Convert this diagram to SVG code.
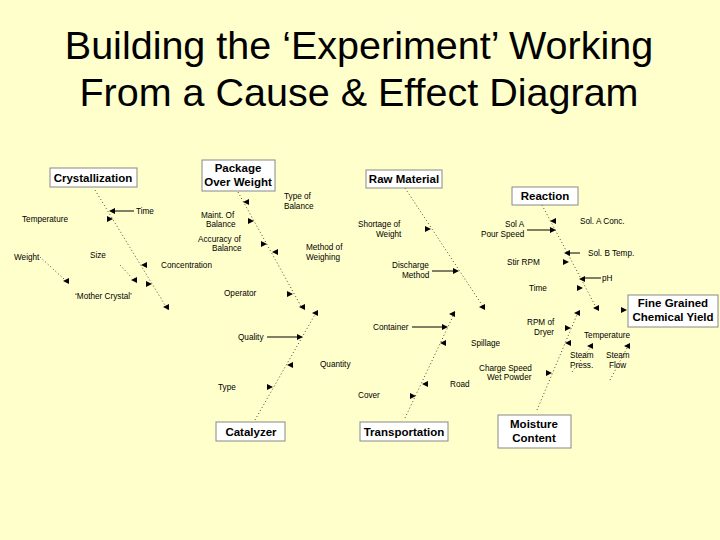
<svg xmlns="http://www.w3.org/2000/svg" width="720" height="540" viewBox="0 0 720 540">
<defs>
<style>
.t{font-family:"Liberation Sans",Arial,sans-serif;font-size:8.2px;fill:#000}
.h{font-family:"Liberation Sans",Arial,sans-serif;font-size:11.5px;font-weight:bold;fill:#000;text-anchor:middle}
.box{fill:#fff;stroke:#888;stroke-width:1}
.d{stroke:#333;stroke-width:0.9;stroke-dasharray:1 2.5;fill:none}
.s{stroke:#000;stroke-width:1;fill:none}
</style>
<polygon id="r" points="3,0 -3,-3 -3,3" fill="#000"/>
<polygon id="l" points="-3,0 3,-3 3,3" fill="#000"/>
</defs>
<rect width="720" height="540" fill="#ffffcc"/>
<g id="title" font-family="Liberation Sans,Arial,sans-serif" font-size="39.5" text-anchor="middle" fill="#000">
<text x="359" y="59">Building the ‘Experiment’ Working</text>
<text x="359" y="106">From a Cause &amp; Effect Diagram</text>
</g>
<g id="connectors">
<path class="d" d="M95 190 L168 310 M238 192 L302 308 M255 420 L317 311 M405 188 L484 308 M405 418 L455 312 M542 205 L597 309 M537 410 L579 310 M40 257 L64 279 M120 265 L132 278 M572 372 L590 348 M610 380 L627 348"/>
<path class="s" d="M134 211 L114 211 M267 337 L297 337 M412 327 L442 327 M527 230 L550 230 M580 253 L569 253 M601 278 L584 278 M432 271 L453 271"/>
<g>
<use href="#l" x="112" y="211"/><use href="#r" x="110" y="219"/><use href="#l" x="144" y="265"/><use href="#r" x="149" y="284"/><use href="#l" x="166" y="307"/><use href="#l" x="134" y="280"/><use href="#l" x="66" y="281"/>
<use href="#l" x="246" y="202"/><use href="#r" x="251" y="221"/><use href="#r" x="264" y="244"/><use href="#l" x="275" y="252"/><use href="#r" x="290" y="294"/><use href="#l" x="302" y="307"/>
<use href="#l" x="315" y="313"/><use href="#r" x="300" y="337"/><use href="#l" x="290" y="365"/><use href="#r" x="270" y="387"/>
<use href="#r" x="428" y="229"/><use href="#r" x="456" y="271"/><use href="#l" x="482" y="307"/>
<use href="#l" x="452" y="314"/><use href="#r" x="445" y="327"/><use href="#l" x="443" y="343"/><use href="#l" x="425" y="384"/><use href="#r" x="413" y="396"/>
<use href="#l" x="553" y="221"/><use href="#r" x="553" y="230"/><use href="#l" x="567" y="253"/><use href="#r" x="566" y="262"/><use href="#l" x="582" y="279"/><use href="#r" x="580" y="288"/><use href="#l" x="596" y="308"/>
<use href="#l" x="577" y="313"/><use href="#r" x="568" y="328"/><use href="#l" x="568" y="343"/><use href="#r" x="549" y="373"/>
<use href="#l" x="590" y="346"/><use href="#l" x="627" y="346"/><use href="#r" x="624" y="310"/>
</g>
</g>
<g id="crystallization"><rect class="box" x="50" y="168" width="87" height="19"/><text class="h" x="93" y="182">Crystallization</text></g>
<g id="package"><rect class="box" x="202" y="160" width="73" height="31"/><text class="h" x="238" y="172">Package</text><text class="h" x="238" y="186">Over Weight</text></g>
<g id="rawmaterial"><rect class="box" x="366" y="170" width="76" height="18"/><text class="h" x="404" y="183">Raw Material</text></g>
<g id="reaction"><rect class="box" x="512" y="187" width="66" height="18"/><text class="h" x="545" y="200">Reaction</text></g>
<g id="effect"><rect class="box" x="628" y="295" width="90" height="32"/><text class="h" x="673" y="307">Fine Grained</text><text class="h" x="673" y="321">Chemical Yield</text></g>
<g id="catalyzer"><rect class="box" x="216" y="422" width="69" height="19"/><text class="h" x="251" y="436">Catalyzer</text></g>
<g id="transportation"><rect class="box" x="360" y="422" width="88" height="19"/><text class="h" x="404" y="436">Transportation</text></g>
<g id="moisture"><rect class="box" x="498" y="415" width="73" height="33"/><text class="h" x="534" y="428">Moisture</text><text class="h" x="534" y="442">Content</text></g>
<g id="labels" class="t">
<text class="t" x="136" y="214">Time</text>
<text class="t" x="22" y="222">Temperature</text>
<text class="t" x="14" y="260">Weight</text>
<text class="t" x="90" y="258">Size</text>
<text class="t" x="161" y="268">Concentration</text>
<text class="t" x="75" y="299">‘Mother Crystal’</text>
<text class="t" x="284" y="199">Type of</text><text class="t" x="284" y="209">Balance</text>
<text class="t" x="201" y="218">Maint. Of</text><text class="t" x="206" y="227">Balance</text>
<text class="t" x="198" y="242">Accuracy of</text><text class="t" x="212" y="251">Balance</text>
<text class="t" x="306" y="250">Method of</text><text class="t" x="306" y="260">Weighing</text>
<text class="t" x="224" y="296">Operator</text>
<text class="t" x="238" y="340">Quality</text>
<text class="t" x="320" y="367">Quantity</text>
<text class="t" x="218" y="390">Type</text>
<text class="t" x="358" y="227">Shortage of</text><text class="t" x="376" y="237">Weight</text>
<text class="t" x="392" y="268">Discharge</text><text class="t" x="402" y="278">Method</text>
<text class="t" x="373" y="330">Container</text>
<text class="t" x="471" y="346">Spillage</text>
<text class="t" x="450" y="387">Road</text>
<text class="t" x="358" y="398">Cover</text>
<text class="t" x="505" y="227">Sol A</text><text class="t" x="481" y="237">Pour Speed</text>
<text class="t" x="580" y="224">Sol. A Conc.</text>
<text class="t" x="588" y="256">Sol. B Temp.</text>
<text class="t" x="507" y="265">Stir RPM</text>
<text class="t" x="602" y="281">pH</text>
<text class="t" x="529" y="291">Time</text>
<text class="t" x="527" y="325">RPM of</text><text class="t" x="534" y="335">Dryer</text>
<text class="t" x="584" y="338">Temperature</text>
<text class="t" x="570" y="358">Steam</text><text class="t" x="570" y="368">Press.</text>
<text class="t" x="606" y="358">Steam</text><text class="t" x="609" y="368">Flow</text>
<text class="t" x="479" y="371">Charge Speed</text><text class="t" x="487" y="380">Wet Powder</text>
</g>
</svg>
